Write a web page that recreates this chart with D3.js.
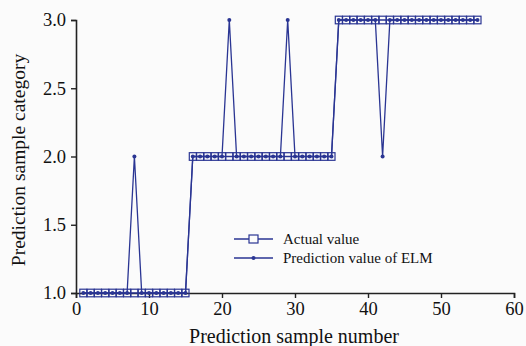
<!DOCTYPE html>
<html>
<head>
<meta charset="utf-8">
<script src="https://cdnjs.cloudflare.com/ajax/libs/d3/7.8.5/d3.min.js"></script>
<style>
  body { margin: 0; background: #fbfbfb; }
  svg { display: block; }
  text { font-family: "Liberation Serif", "Times New Roman", serif; fill: #111; }
</style>
</head>
<body>
<div id="graph"></div>
<script>
// sample numbers 1..55
var samples = d3.range(1, 56);
// actual category of each sample
var actual = [1,1,1,1,1,1,1,1,1,1,1,1,1,1,1,
              2,2,2,2,2,2,2,2,2,2,2,2,2,2,2,2,2,2,2,2,
              3,3,3,3,3,3,3,3,3,3,3,3,3,3,3,3,3,3,3,3];
// ELM prediction of each sample
var predicted = [1,1,1,1,1,1,1,2,1,1,1,1,1,1,1,
                 2,2,2,2,2,3,2,2,2,2,2,2,2,3,2,2,2,2,2,2,
                 3,3,3,3,3,3,2,3,3,3,3,3,3,3,3,3,3,3,3,3];
var xTicks = [0, 10, 20, 30, 40, 50, 60];
var yTicks = [1.0, 1.5, 2.0, 2.5, 3.0];
var seriesNames = ["Actual value", "Prediction value of ELM"];

var width = 526;
var height = 346;
var blue = "#2a3593";

var svg = d3.select("#graph").append("svg")
  .attr("width", width)
  .attr("height", height);

var x = d3.scaleLinear().domain([0, 60]).range([76, 514]);
var y = d3.scaleLinear().domain([1, 3]).range([293, 20]);

//axes
var xAxis = svg.append("g")
  .attr("transform", "translate(0," + y(1) + ")")
  .call(d3.axisBottom(x).tickValues(xTicks).tickSize(5).tickPadding(4).tickFormat(d3.format("d")));
var yAxis = svg.append("g")
  .attr("transform", "translate(" + x(0) + ",0)")
  .call(d3.axisLeft(y).tickValues(yTicks).tickSize(5).tickPadding(5).tickFormat(d3.format(".1f")));

[xAxis, yAxis].forEach(function(a) {
  a.select(".domain").attr("stroke", "#222").attr("stroke-width", 1.6);
  a.selectAll(".tick line").attr("stroke", "#222").attr("stroke-width", 1.4);
  a.selectAll(".tick text")
    .style("font-family", "Liberation Serif")
    .style("font-size", "18.5px")
    .attr("fill", "#111");
});

//axis titles
svg.append("text")
  .attr("x", 294)
  .attr("y", 343)
  .attr("text-anchor", "middle")
  .style("font-size", "20px")
  .text("Prediction sample number");
svg.append("text")
  .attr("transform", "translate(25,160) rotate(-90)")
  .attr("text-anchor", "middle")
  .style("font-size", "19.5px")
  .text("Prediction sample category");

var line = d3.line()
  .x(function(d) { return x(d[0]); })
  .y(function(d) { return y(d[1]); });

var actualData = samples.map(function(s, i) { return [s, actual[i]]; });
var predData = samples.map(function(s, i) { return [s, predicted[i]]; });

//actual value series
svg.append("path")
  .datum(actualData)
  .attr("d", line)
  .attr("fill", "none")
  .attr("stroke", blue)
  .attr("stroke-width", 1.3);
svg.selectAll(".sq")
  .data(actualData)
  .enter().append("rect")
  .attr("class", "sq")
  .attr("x", function(d) { return x(d[0]) - 3.5; })
  .attr("y", function(d) { return y(d[1]) - 3.8; })
  .attr("width", 7)
  .attr("height", 7.6)
  .attr("fill", "none")
  .attr("stroke", blue)
  .attr("stroke-width", 1.2);

//prediction series
svg.append("path")
  .datum(predData)
  .attr("d", line)
  .attr("fill", "none")
  .attr("stroke", blue)
  .attr("stroke-width", 1.3);
svg.selectAll(".dot")
  .data(predData)
  .enter().append("circle")
  .attr("class", "dot")
  .attr("cx", function(d) { return x(d[0]); })
  .attr("cy", function(d) { return y(d[1]); })
  .attr("r", 2)
  .attr("fill", blue);

//legend
var legend = svg.append("g").attr("transform", "translate(234,239)");
seriesNames.forEach(function(name, i) {
  var g = legend.append("g").attr("transform", "translate(0," + (i * 19) + ")");
  g.append("line")
    .attr("x1", 0).attr("x2", 39)
    .attr("stroke", blue).attr("stroke-width", 1.3);
  if (i === 0) {
    g.append("rect")
      .attr("x", 15).attr("y", -4)
      .attr("width", 9).attr("height", 8)
      .attr("fill", "#fbfbfb")
      .attr("stroke", blue).attr("stroke-width", 1.2);
  } else {
    g.append("circle").attr("cx", 19.5).attr("r", 2).attr("fill", blue);
  }
  g.append("text")
    .attr("x", 49)
    .attr("y", 5)
    .style("font-size", "15px")
    .text(name);
});
</script>
</body>
</html>
